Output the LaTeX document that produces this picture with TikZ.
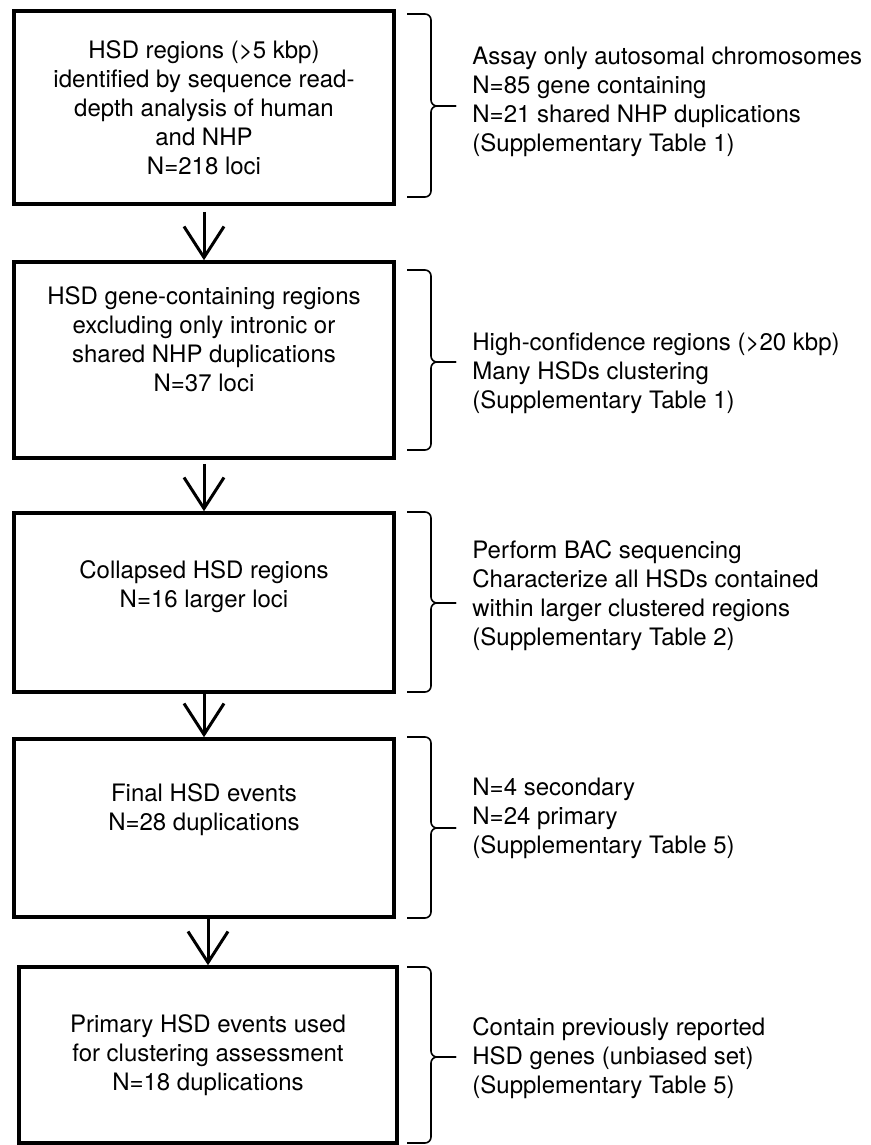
\documentclass[tikz,border=0pt]{standalone}
\usepackage{fontspec}
\setmainfont{TeX Gyre Heros}
\usetikzlibrary{arrows.meta}

% curly bracket on the right of a stage: top row, tip row, bottom row
\newcommand{\hsdbrace}[3]{%
  \draw[bracket] (407,#1) -- (431,#1) -- (431,#2) -- (456,#2);
  \draw[bracket] (407,#3) -- (431,#3) -- (431,#2) -- (456,#2);
}

\begin{document}
\begin{tikzpicture}[x=0.5pt, y=-0.5pt,
    stage/.style={draw, line width=1.75pt, minimum width=190pt, inner sep=0pt,
      align=center, font=\fontsize{12}{14.5}\selectfont},
    remark/.style={anchor=west, inner sep=0pt, align=left,
      font=\fontsize{12}{14.5}\selectfont},
    flow/.style={line width=1.5pt, -{Straight Barb[length=15.5pt,width=20pt]}},
    bracket/.style={line width=0.8pt, rounded corners=3pt}]
  \useasboundingbox (0,0) rectangle (871,1145);

  % stages
  \node[stage, minimum height=96.5pt] (b1) at (204,107.5)
    {HSD regions (>5 kbp)\\identified by sequence read-\\depth analysis of human\\and NHP\\N=218 loci};
  \node[stage, minimum height=98pt] (b2) at (204,360)
    {HSD gene-containing regions\\excluding only intronic or\\shared NHP duplications\\N=37 loci\\[6pt]};
  \node[stage, minimum height=89.5pt] (b3) at (204,602.5)
    {Collapsed HSD regions\\N=16 larger loci\\[4pt]};
  \node[stage, minimum height=89pt] (b4) at (204,828)
    {Final HSD events\\N=28 duplications\\[6pt]};
  \node[stage, minimum height=88pt, minimum width=189pt] (b5) at (208,1055)
    {Primary HSD events used\\for clustering assessment\\N=18 duplications};

  % arrows between stages
  \draw[flow, shorten <=3pt] (b1) -- (b2);
  \draw[flow, shorten <=2pt] (b2) -- (b3);
  \draw[flow] (b3) -- (b4);
  \draw[flow] (b4.south -| b5.north) -- (b5.north);

  % brackets
  \hsdbrace{14}{106}{197}
  \hsdbrace{270}{362}{450}
  \hsdbrace{512}{603}{692}
  \hsdbrace{737}{828}{918}
  \hsdbrace{967}{1057}{1143}

  % notes
  \node[remark] (n1) at (472,102)
    {Assay only autosomal chromosomes\\N=85 gene containing\\N=21 shared NHP duplications\\(Supplementary Table 1)};
  \node[remark] (n2) at (472,373)
    {High-confidence regions (>20 kbp)\\Many HSDs clustering\\(Supplementary Table 1)};
  \node[remark] (n3) at (472,596)
    {Perform BAC sequencing\\Characterize all HSDs contained\\within larger clustered regions\\(Supplementary Table 2)};
  \node[remark] (n4) at (472,818)
    {N=4 secondary\\N=24 primary\\(Supplementary Table 5)};
  \node[remark] (n5) at (472,1058)
    {Contain previously reported\\HSD genes (unbiased set)\\(Supplementary Table 5)};
\end{tikzpicture}
\end{document}
